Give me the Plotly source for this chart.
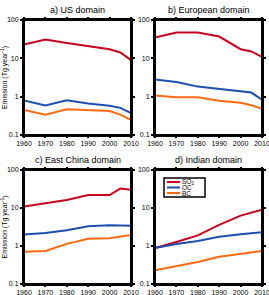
import plotly.graph_objects as go

years = [1960, 1970, 1980, 1990, 2000, 2005, 2010]

us_so2 = [23, 31, 25, 21, 17.3, 14.2, 9.0]
us_oc = [0.79, 0.59, 0.80, 0.66, 0.58, 0.51, 0.37]
us_bc = [0.45, 0.34, 0.47, 0.45, 0.42, 0.34, 0.25]

eu_so2 = [35, 47, 47, 37, 17.3, 15.1, 11]
eu_oc = [2.8, 2.4, 1.83, 1.6, 1.4, 1.28, 0.83]
eu_bc = [1.07, 0.97, 0.97, 0.78, 0.69, 0.60, 0.48]

cn_so2 = [10.9, 13.5, 16.2, 21.9, 21.9, 32.5, 30]
cn_oc = [2.0, 2.2, 2.6, 3.3, 3.5, 3.45, 3.4]
cn_bc = [0.71, 0.74, 1.14, 1.54, 1.6, 1.8, 1.95]

in_years = [1960, 1970, 1980, 1990, 2000, 2010]
in_so2 = [0.89, 1.27, 1.9, 3.6, 6.3, 9.0]
in_oc = [0.89, 1.13, 1.35, 1.75, 2.05, 2.3]
in_bc = [0.23, 0.30, 0.38, 0.52, 0.63, 0.74]

panel_titles = ["a) US domain", "b) European domain", "c) East China domain", "d) Indian domain"]
species = ["SO<sub>2</sub>", "OC", "BC"]
ytickvals = [0.1, 1, 10, 100]
yticktext = ["0.1", "1", "10", "100"]
xtickvals = [1960, 1970, 1980, 1990, 2000, 2010]

RED = "#c8001e"
BLUE = "#1c4fae"
ORANGE = "#ff6a10"
colors = [RED, BLUE, ORANGE]

W, H = 269, 295
xdoms = [[24 / W, 131 / W], [155 / W, 262 / W]]
ydoms = [[1 - 135 / H, 1 - 20 / H], [1 - 284 / H, 1 - 170 / H]]

panels = [
    (years, [us_so2, us_oc, us_bc]),
    (years, [eu_so2, eu_oc, eu_bc]),
    (years, [cn_so2, cn_oc, cn_bc]),
    (in_years, [in_so2, in_oc, in_bc]),
]

fig = go.Figure()
font = "Liberation Sans, Arial, sans-serif"
layout = dict(
    width=W, height=H, margin=dict(l=0, r=0, t=0, b=0, autoexpand=False),
    paper_bgcolor="white", plot_bgcolor="white", showlegend=False,
    font=dict(family=font, color="black", size=7),
)
annotations = []
shapes = []
for i, (xs, series) in enumerate(panels):
    n = i + 1
    xa = "x" if n == 1 else f"x{n}"
    ya = "y" if n == 1 else f"y{n}"
    for s, c, name in zip(series, colors, species):
        fig.add_trace(go.Scatter(x=xs, y=s, mode="lines", name=name,
                                 line=dict(color=c, width=2), xaxis=xa, yaxis=ya,
                                 cliponaxis=True))
    col = i % 2
    row = i // 2
    axis_common = dict(showline=True, linecolor="black", linewidth=2, mirror="ticks",
                       ticks="outside", tickwidth=1.5, tickcolor="black",
                       showgrid=False, zeroline=False, automargin=False,
                       ticklabeloverflow="allow",
                       tickfont=dict(size=7, family=font))
    layout["xaxis" if n == 1 else f"xaxis{n}"] = dict(
        domain=xdoms[col], anchor=ya, range=[1960, 2010], ticklen=1,
        tickvals=xtickvals, ticktext=[str(v) for v in xtickvals], **axis_common)
    ydict = dict(domain=ydoms[row], anchor=xa, type="log", range=[-1, 2], ticklen=2,
                 tickvals=ytickvals, ticktext=yticktext, **axis_common)
    if col == 0:
        ydict["title"] = dict(text="Emission (Tg year<sup>-1</sup>)", font=dict(size=7, family=font),
                              standoff=2)
    layout["yaxis" if n == 1 else f"yaxis{n}"] = ydict
    shapes.append(dict(type="rect", xref=f"{xa} domain", yref=f"{ya} domain",
                       x0=0, x1=1, y0=0, y1=1, line=dict(color="black", width=2),
                       layer="above"))
    annotations.append(dict(text=panel_titles[i], xref="paper", yref="paper",
                            x=sum(xdoms[col]) / 2, y=ydoms[row][1] + 10 / H,
                            xanchor="center", yanchor="middle", showarrow=False,
                            font=dict(size=9, family=font)))

# legend box in panel d (paper coordinates)
lx0, lx1, ly0, ly1 = 164 / W, 205 / W, 1 - 178 / H, 1 - 197 / H
shapes.append(dict(type="rect", xref="paper", yref="paper", x0=lx0, x1=lx1, y0=ly1, y1=ly0,
                   line=dict(color="black", width=1.5), fillcolor="white"))
for k, (c, name) in enumerate(zip(colors, species)):
    yy = 1 - (182 + k * 5.5) / H
    shapes.append(dict(type="line", xref="paper", yref="paper", x0=167 / W, x1=180 / W,
                       y0=yy, y1=yy, line=dict(color=c, width=2)))
    annotations.append(dict(text=name, xref="paper", yref="paper", x=181 / W, y=yy,
                            xanchor="left", yanchor="middle", showarrow=False,
                            borderpad=0, font=dict(size=6.5, family=font)))

layout["annotations"] = annotations
layout["shapes"] = shapes
fig.update_layout(**layout)
fig.write_html("out.html", config={"displayModeBar": False},
               post_script="document.body.style.margin='0';document.body.style.padding='0';")
